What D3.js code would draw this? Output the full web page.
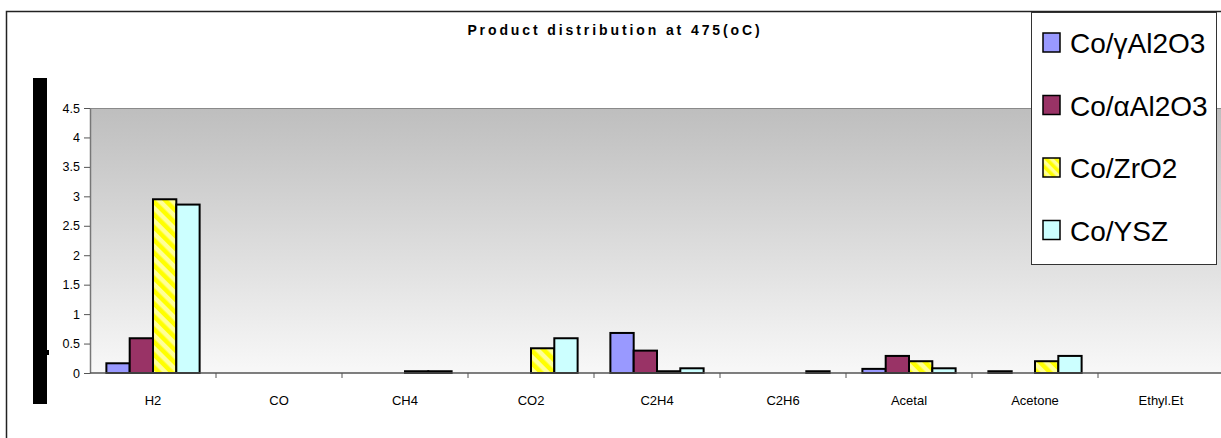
<!DOCTYPE html>
<html>
<head>
<meta charset="utf-8">
<script src="https://cdn.jsdelivr.net/npm/d3@7"></script>
<style>
  body { margin: 0; background: #fff; }
  svg { display: block; font-family: "Liberation Sans", Arial, sans-serif; }
</style>
</head>
<body>
<div id="chart"></div>
<script>
// values
var categories = ["H2", "CO", "CH4", "CO2", "C2H4", "C2H6", "Acetal", "Acetone", "Ethyl.Et"];
var seriesNames = ["Co/\u03b3Al2O3", "Co/\u03b1Al2O3", "Co/ZrO2", "Co/YSZ"];
var coGammaAl = [0.165, 0, 0, 0, 0.68, 0, 0.07, 0.03, 0];
var coAlphaAl = [0.59, 0, 0, 0, 0.38, 0, 0.29, 0, 0];
var coZrO2 = [2.95, 0, 0.03, 0.42, 0.03, 0, 0.2, 0.2, 0];
var coYSZ = [2.86, 0, 0.03, 0.59, 0.08, 0.03, 0.08, 0.29, 0];
var yTicks = [0, 0.5, 1, 1.5, 2, 2.5, 3, 3.5, 4, 4.5];
var title = "Product distribution at 475(oC)";

var seriesValues = [coGammaAl, coAlphaAl, coZrO2, coYSZ];
var fills = ["#9999ff", "#993366", "url(#stripes)", "#ccffff"];
var swatchFills = ["#9999ff", "#993366", "url(#stripesSmall)", "#ccffff"];

var width = 1221, height = 438;
var plotLeft = 90, plotTop = 108, plotBottom = 373, step = 126;

var svg = d3.select("#chart").append("svg")
	.attr("width", width)
	.attr("height", height);

var defs = svg.append("defs");

var grad = defs.append("linearGradient")
	.attr("id", "bg")
	.attr("x1", 0).attr("y1", 0).attr("x2", 0).attr("y2", 1);
grad.append("stop").attr("offset", "0%").attr("stop-color", "#bebebe");
grad.append("stop").attr("offset", "100%").attr("stop-color", "#f8f8f8");

// yellow hatch for the ZrO2 series
function addStripes(id, size) {
	var p = defs.append("pattern")
		.attr("id", id)
		.attr("patternUnits", "userSpaceOnUse")
		.attr("width", size).attr("height", size)
		.attr("patternTransform", "rotate(-45)");
	p.append("rect").attr("width", size).attr("height", size).attr("fill", "#ffff99");
	p.append("rect").attr("width", size / 2).attr("height", size).attr("fill", "#ffff00");
}
addStripes("stripes", 9);
addStripes("stripesSmall", 7);

// outer frame
svg.append("rect")
	.attr("x", 6.5).attr("y", 11.5)
	.attr("width", 1400).attr("height", 600)
	.attr("fill", "none")
	.attr("stroke", "#222")
	.attr("stroke-width", 1.5);

var x = d3.scaleBand()
	.domain(categories)
	.range([plotLeft, plotLeft + step * categories.length])
	.paddingInner(0.26)
	.paddingOuter(0.13);

var xInner = d3.scaleBand()
	.domain(d3.range(seriesNames.length))
	.range([0, x.bandwidth()]);

var y = d3.scaleLinear()
	.domain([0, 4.5])
	.range([plotBottom, plotTop]);

// plot area
svg.append("rect")
	.attr("x", plotLeft).attr("y", plotTop)
	.attr("width", width - plotLeft).attr("height", plotBottom - plotTop)
	.attr("fill", "url(#bg)");
svg.append("line")
	.attr("x1", plotLeft).attr("x2", width)
	.attr("y1", plotTop + 0.5).attr("y2", plotTop + 0.5)
	.attr("stroke", "#8a8a8a");

// black stripe where the y title should be
svg.append("rect")
	.attr("x", 33).attr("y", 78)
	.attr("width", 14).attr("height", 326)
	.attr("fill", "#000");
svg.append("rect")
	.attr("x", 47).attr("y", 350)
	.attr("width", 2).attr("height", 5)
	.attr("fill", "#000");

// y axis
var yAxis = svg.append("g")
	.attr("transform", "translate(" + plotLeft + ",0)")
	.call(d3.axisLeft(y).tickValues(yTicks).tickFormat(d3.format("~")).tickSize(6).tickSizeOuter(0).tickPadding(4));
yAxis.select(".domain").attr("stroke", "#777").attr("stroke-width", 1.5);
yAxis.selectAll(".tick line").attr("stroke", "#555");
yAxis.selectAll("text").attr("font-size", 12.5).attr("fill", "#000");

// bars
var groups = svg.append("g").selectAll("g")
	.data(seriesValues)
	.join("g")
	.attr("fill", function(d, i) { return fills[i]; });

groups.each(function(vals, si) {
	d3.select(this).selectAll("rect")
		.data(vals.map(function(v, ci) { return { cat: categories[ci], v: v }; })
			.filter(function(d) { return d.v > 0; }))
		.join("rect")
		.attr("x", function(d) { return x(d.cat) + xInner(si); })
		.attr("y", function(d) { return y(d.v); })
		.attr("width", xInner.bandwidth())
		.attr("height", function(d) { return y(0) - y(d.v); })
		.attr("stroke", "#000")
		.attr("stroke-width", 2);
});

// x axis
svg.append("line")
	.attr("x1", plotLeft).attr("x2", width)
	.attr("y1", plotBottom).attr("y2", plotBottom)
	.attr("stroke", "#555")
	.attr("stroke-width", 1.5);

var boundaries = categories.slice(1).map(function(c) {
	return x(c) - x.step() * x.paddingInner() / 2;
});
svg.append("g").selectAll("line")
	.data(boundaries)
	.join("line")
	.attr("x1", function(d) { return d; }).attr("x2", function(d) { return d; })
	.attr("y1", plotBottom).attr("y2", plotBottom + 5)
	.attr("stroke", "#555");

svg.append("g").selectAll("text")
	.data(categories)
	.join("text")
	.attr("x", function(d) { return x(d) + x.bandwidth() / 2; })
	.attr("y", 405)
	.attr("text-anchor", "middle")
	.attr("font-size", 13)
	.text(function(d) { return d; });

// title
svg.append("text")
	.attr("x", 615).attr("y", 35)
	.attr("text-anchor", "middle")
	.attr("font-size", 14)
	.attr("font-weight", "bold")
	.attr("letter-spacing", 2.9)
	.text(title);

// legend
var legend = svg.append("g");
legend.append("rect")
	.attr("x", 1031.5).attr("y", 12.5)
	.attr("width", 185).attr("height", 252)
	.attr("fill", "#fff")
	.attr("stroke", "#333");

var items = legend.selectAll("g")
	.data(seriesNames)
	.join("g")
	.attr("transform", function(d, i) { return "translate(1043," + (33 + i * 62.5) + ")"; });
items.append("rect")
	.attr("width", 17).attr("height", 19)
	.attr("fill", function(d, i) { return swatchFills[i]; })
	.attr("stroke", "#000")
	.attr("stroke-width", 1.5);
items.append("text")
	.attr("x", 27).attr("y", 20)
	.attr("font-size", 28)
	.text(function(d) { return d; });
</script>
</body>
</html>
